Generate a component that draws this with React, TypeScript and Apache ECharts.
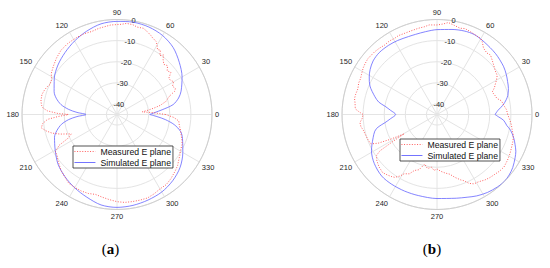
import React, { useEffect, useRef } from 'react';
import * as echarts from 'echarts';

// ---------- data (dB vs angle in degrees) ----------
const thetaTickLabels = ['0', '30', '60', '90', '120', '150', '180', '210', '240', '270', '300', '330'];
const rTickLabels = ['-40', '-30', '-20', '-10', '0'];
const seriesNames = ['Measured E plane', 'Simulated E plane'];
const captions = ['a', 'b'];

const simAAng = [0, 3, 6, 10, 15, 20, 30, 40, 50, 60, 70, 80, 90, 100, 110, 120, 130, 140, 150, 160, 165, 170, 174, 177, 180, 183, 186, 190, 195, 200, 210, 220, 230, 240, 250, 260, 270, 280, 290, 300, 310, 320, 330, 340, 345, 350, 354, 357, 360];
const simADb = [-29.5, -27, -23.5, -18, -14.8, -12.7, -9.4, -6.5, -3.6, -1.8, -0.9, -0.6, -0.9, -1.4, -3, -4.8, -6.7, -8.5, -10.7, -13.3, -15.2, -18.1, -22, -26, -30.3, -26, -22, -18.3, -15.5, -13.5, -11.2, -8.5, -6.6, -4.9, -3.3, -1.5, -1.0, -1.3, -1.9, -2.6, -4.0, -6, -9, -12, -13.8, -17.5, -22, -26, -29.5];

const measAAng = [0, 3, 6, 8, 10, 12, 15, 18, 20, 22, 24, 27, 30, 33, 35, 38, 41, 44, 47, 50, 52, 54, 56, 58, 60, 62, 65, 67, 70, 73, 77, 80, 84, 87, 90, 94, 98, 102, 107, 112, 117, 122, 125, 131, 137, 143, 148, 152, 156, 158, 161, 165, 170, 173, 175, 177, 179, 180, 182, 184, 187, 190, 193, 196, 199, 203, 206, 208, 211, 215, 218, 225, 232, 235, 240, 245, 250, 255, 260, 265, 270, 275, 280, 285, 290, 295, 300, 305, 310, 316, 320, 323, 327, 330, 335, 338, 342, 346, 350, 354, 357, 360];
const measADb = [-22, -28, -33, -30, -27, -24, -21, -19.5, -18, -15.5, -14.7, -15.5, -14, -15, -15, -12.6, -13.5, -11.7, -12.5, -11, -9.2, -10.5, -8.2, -8.8, -7, -5.7, -5, -4.2, -3.2, -2.3, -2.5, -1.8, -1.6, -2.2, -2.4, -2.5, -3, -3.3, -3.9, -3.7, -3.8, -4, -4.1, -4.6, -5.8, -7.2, -8.3, -9.9, -10.2, -9.5, -8.8, -8.2, -8.4, -9, -9.8, -12, -17, -22, -17, -12, -9.5, -8.6, -10.5, -13, -16.5, -21.5, -19, -14, -11, -10.5, -9.5, -7.5, -6, -5.2, -5.1, -5, -5.2, -5.8, -5.2, -4.5, -3.7, -3.2, -3.1, -3, -2.9, -3.5, -4.3, -4.4, -5.3, -6.6, -7.5, -8.5, -9.5, -10.4, -11, -11.8, -13, -14, -15, -15.6, -18, -22];

const simBAng = [0, 4, 8, 12, 15, 20, 25, 30, 36, 46, 57, 65, 72, 80, 90, 98, 105, 110, 118, 125, 133, 140, 146, 151, 157, 164, 168, 171, 175, 180, 185, 189, 192, 195, 200, 205, 209, 218, 228, 237, 247, 257, 270, 283, 290, 296, 303, 310, 315, 320, 325, 331, 335, 339, 343, 348, 351, 355, 358, 360];
const simBDb = [-17.5, -16, -13.5, -11.5, -10.3, -9, -8.1, -7.1, -6.1, -5, -4, -3.2, -3.4, -4.1, -4.8, -5.4, -5.7, -5.7, -5.3, -5.0, -4.9, -5.5, -6.8, -8.3, -10.5, -14.4, -16.8, -20.1, -23, -25.4, -23, -20, -16.5, -14.5, -12.8, -11, -9.5, -7.3, -5.8, -5.6, -5.6, -5.6, -5.2, -4.3, -3.3, -2.1, -1, -0.3, 0, -0.4, -1.2, -2.7, -3.8, -5.4, -7, -9.4, -11.5, -13.3, -16, -17.5];

const measBAng = [0, 4, 8, 12, 15, 19, 22, 25, 27, 30, 33, 37, 41, 44, 48, 51, 55, 58, 60, 64, 68, 72, 75, 79, 83, 86, 90, 95, 98, 102, 107, 112, 116, 119, 123, 127, 131, 135, 141, 145, 148, 152, 155, 158, 162, 166, 169, 172, 176, 178, 180, 183, 186, 189, 192, 196, 200, 204, 206, 208, 210.5, 211.5, 212.5, 214, 217, 222, 227, 231, 234, 236, 239, 241, 245, 248, 252, 256, 260, 264, 267, 270, 274, 278, 282, 286, 290, 292, 295, 298, 302, 306, 310, 314, 318, 322, 327, 332, 337, 341, 345, 349, 352, 356, 360];
const measBDb = [-11.5, -12, -13.1, -13.8, -15.6, -16.2, -16.8, -15, -14.1, -12.5, -11, -10.5, -9.4, -8.5, -7.1, -7.5, -6.6, -4.5, -3.5, -3.2, -2.7, -2.2, -2.7, -2, -1.1, -2, -2.6, -2.4, -3, -3.2, -3.5, -3.6, -3.4, -3.7, -3.5, -3.8, -3.4, -3.1, -2.9, -3.3, -3.7, -4.5, -5, -5, -5.6, -5.3, -5.2, -5.8, -6.2, -8, -10, -9.5, -8.3, -8.5, -9.3, -9.8, -10.2, -10.7, -14, -20, -27, -20, -13, -10.5, -9.2, -8, -7.3, -8, -8.6, -9.1, -11, -12.9, -14, -16.4, -17.5, -20.8, -19, -19.9, -18.5, -19.2, -18, -17, -16.1, -14, -12, -11.2, -9, -7.8, -7.5, -6.6, -6, -5.6, -5, -4.7, -5.2, -5.8, -6.5, -6.9, -7.6, -8.8, -9.4, -10.5, -11.5];

const R_MIN = -45;
const R_MAX = 0;

const toPolar = (ang: number[], db: number[]) => ang.map((a, i) => [db[i], a]);

const FONT = 'Liberation Sans, Arial, sans-serif';
const RED = '#ff4d4d';
const BLUE = '#6464ff';

export default function App() {
  const ref = useRef<HTMLDivElement>(null);

  useEffect(() => {
    if (!ref.current) return;
    const chart = echarts.init(ref.current, undefined, { renderer: 'svg' });
    const centers = [117, 437];
    const cy = 114.5;
    const radius = 95;

    const polar: any[] = [];
    const angleAxis: any[] = [];
    const radiusAxis: any[] = [];
    centers.forEach((cx, k) => {
      polar.push({ center: [cx, cy], radius });
      polar.push({ center: [cx, cy], radius });
      const gi = k * 2;
      angleAxis.push({
        polarIndex: gi,
        type: 'value',
        min: 0,
        max: 360,
        interval: 30,
        startAngle: 0,
        clockwise: false,
        axisLine: { show: true, lineStyle: { color: '#cfcfcf', width: 1 } },
        axisTick: { show: false },
        axisLabel: {
          margin: 3,
          fontSize: 7.5,
          color: '#262626',
          fontFamily: FONT,
          formatter: (v: number) => {
            const idx = Math.round(v / 30);
            return v >= 360 ? '' : thetaTickLabels[idx] ?? '';
          },
        },
        splitLine: { show: true, lineStyle: { color: '#e4e4e4', width: 1 } },
      });
      radiusAxis.push({
        polarIndex: gi,
        type: 'value',
        min: R_MIN,
        max: R_MAX,
        axisLine: { show: false },
        axisTick: { show: false },
        axisLabel: { show: false },
        splitLine: { show: true, lineStyle: { color: '#e4e4e4', width: 1 } },
      });
      angleAxis.push({
        polarIndex: gi + 1,
        type: 'value',
        min: 0,
        max: 360,
        startAngle: 80,
        clockwise: false,
        show: false,
      });
      radiusAxis.push({
        polarIndex: gi + 1,
        type: 'value',
        min: R_MIN,
        max: R_MAX,
        axisLine: { show: false },
        axisTick: { show: false },
        splitLine: { show: false },
        axisLabel: {
          show: true,
          margin: 0,
          align: 'center',
          verticalAlign: 'middle',
          fontSize: 7.5,
          color: '#262626',
          fontFamily: FONT,
          formatter: (v: number) => {
            const s = String(Math.round(v));
            return rTickLabels.indexOf(s) >= 0 ? s : '';
          },
        },
      });
    });

    const lineSeries = (name: string, polarIndex: number, data: number[][], measured: boolean) => ({
      name,
      type: 'line',
      coordinateSystem: 'polar',
      polarIndex,
      data,
      symbol: 'none',
      smooth: measured ? false : 0.3,
      lineStyle: measured
        ? { color: RED, width: 0.9, type: [1, 1.6] }
        : { color: BLUE, width: 0.8, type: 'solid' },
      itemStyle: { color: measured ? RED : BLUE },
      z: measured ? 3 : 2,
    });

    const legendBase = (left: number, top: number) => ({
      left,
      top,
      orient: 'vertical',
      data: seriesNames,
      selectedMode: false,
      itemWidth: 21,
      itemHeight: 8,
      itemGap: 2,
      padding: [1, 2, 1, 1],
      borderColor: '#262626',
      borderWidth: 0.8,
      backgroundColor: '#ffffff',
      itemStyle: { opacity: 0 },
      lineStyle: { width: 0.9 },
      textStyle: { fontSize: 8.7, color: '#111', fontFamily: FONT },
    });

    chart.setOption({
      animation: false,
      polar,
      angleAxis,
      radiusAxis,
      legend: [legendBase(73, 146), legendBase(400, 139)],
      series: [
        lineSeries(seriesNames[1], 0, toPolar(simAAng, simADb), false),
        lineSeries(seriesNames[0], 0, toPolar(measAAng, measADb), true),
        lineSeries(seriesNames[1], 2, toPolar(simBAng, simBDb), false),
        lineSeries(seriesNames[0], 2, toPolar(measBAng, measBDb), true),
      ],
      graphic: captions.map((c, i) => ({
        type: 'text',
        x: i === 0 ? 110.5 : 432,
        y: 249,
        style: {
          text: '{p|(}{b|' + c + '}{p|)}',
          align: 'center',
          verticalAlign: 'middle',
          rich: {
            p: { fontFamily: 'Liberation Serif, serif', fontSize: 15, fontWeight: 'normal', color: '#000' },
            b: { fontFamily: 'Liberation Serif, serif', fontSize: 15, fontWeight: 'bold', color: '#000' },
          },
        },
      })),
    });

    return () => chart.dispose();
  }, []);

  return (
    <div
      ref={ref}
      style={{ position: 'absolute', left: 0, top: 0, width: 550, height: 268, background: '#fff' }}
    />
  );
}
